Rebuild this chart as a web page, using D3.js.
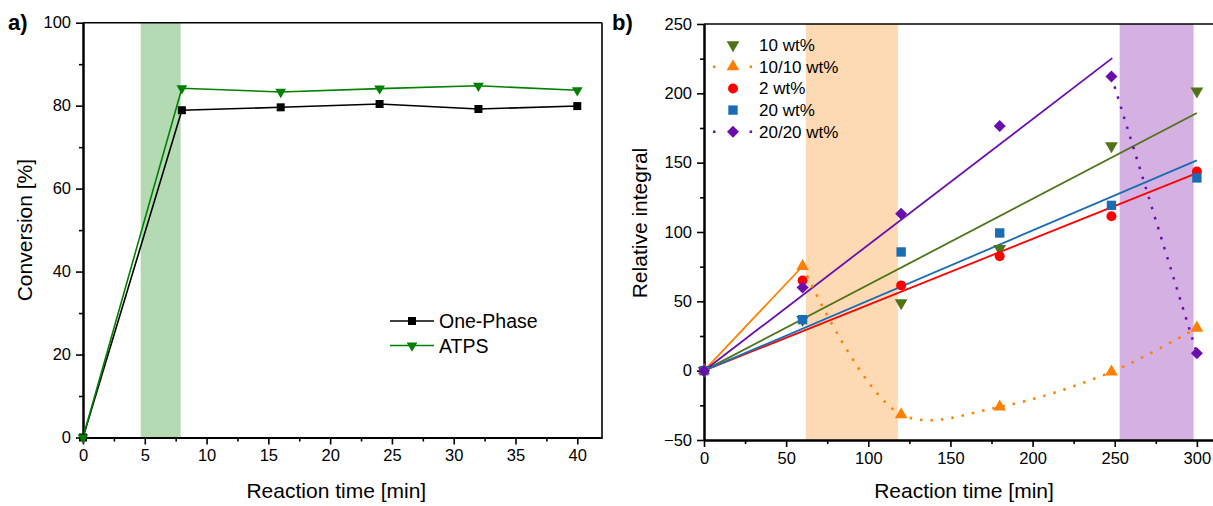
<!DOCTYPE html>
<html>
<head>
<meta charset="utf-8">
<script src="https://cdn.jsdelivr.net/npm/d3@7"></script>
<style>
  body { margin: 0; background: #fff; }
  svg text { font-family: "Liberation Sans", Arial, sans-serif; fill: #000; }
</style>
</head>
<body>
<div id="chart"></div>
<script>
// ---- panel a) data ----
const timeA = [0, 8, 16, 24, 32, 40];
const onePhase = [0, 78.9, 79.6, 80.4, 79.2, 79.9];
const atps = [0, 84.2, 83.3, 84.1, 84.8, 83.7];
const bandA = [4.67, 7.9];

// ---- panel b) data ----
const timeB = [0, 60, 120, 180, 248, 300];
const wt10 = [0, 36.7, 48.9, 87.9, 162.1, 201.6];
const wt1010 = [0, 75.3, -31.6, -26.1, -0.9, 30.8];
const wt2 = [0, 65, 61.5, 82.5, 111.3, 143.7];
const wt20 = [0, 36.8, 85.6, 99.3, 119.2, 139];
const wt2020 = [0, 60, 113.2, 176.4, 212.2, 12.5];
// linear fits start at the origin, end points
const fitEndX = [300, 60, 300, 300, 248.5];
const fitEndY = [185.8, 75.3, 142.5, 151.6, 225.4];
const bandB1 = [62, 118];
const bandB2 = [253, 298];

const namesB = ["10 wt%", "10/10 wt%", "2 wt%", "20 wt%", "20/20 wt%"];
const colorsB = ["#4f7416", "#ff8000", "#ff0000", "#1a6db2", "#6a0dad"];
const shapesB = ["down", "up", "circle", "square", "diamond"];
const seriesB = [wt10, wt1010, wt2, wt20, wt2020];

let width = 1213, height = 506;

let svg = d3.select("#chart")
    .append("svg")
    .attr("width", width)
    .attr("height", height);

function markerPath(shape, size) {
    if (shape === "down" || shape === "up") return d3.symbol(d3.symbolTriangle, size)();
    if (shape === "circle") return d3.symbol(d3.symbolCircle, size)();
    return d3.symbol(d3.symbolSquare, size)();
}
function markerRot(shape) {
    if (shape === "down") return " rotate(180)";
    if (shape === "diamond") return " rotate(45)";
    return "";
}

function drawAxes(g, x, y, xTicks, xMinor, yTicks, yMinor, right, top) {
    // frame top + right
    g.append("line").attr("x1", x.range()[0]).attr("x2", right)
        .attr("y1", top).attr("y2", top)
        .attr("stroke", "#000").attr("stroke-width", 1.6);
    g.append("line").attr("x1", right).attr("x2", right)
        .attr("y1", top).attr("y2", y.range()[0])
        .attr("stroke", "#000").attr("stroke-width", 1.6);

    let xb = y.range()[0];
    let xMin = g.append("g").attr("transform", `translate(0,${xb})`)
        .call(d3.axisBottom(x).tickValues(xMinor).tickFormat("").tickSize(4).tickSizeOuter(0));
    let xMaj = g.append("g").attr("transform", `translate(0,${xb})`)
        .call(d3.axisBottom(x).tickValues(xTicks).tickSize(7).tickSizeOuter(0).tickPadding(5));
    let yx = x.range()[0];
    let yMin = g.append("g").attr("transform", `translate(${yx},0)`)
        .call(d3.axisLeft(y).tickValues(yMinor).tickFormat("").tickSize(4).tickSizeOuter(0));
    let yMaj = g.append("g").attr("transform", `translate(${yx},0)`)
        .call(d3.axisLeft(y).tickValues(yTicks).tickSize(7).tickSizeOuter(0).tickPadding(5)
            .tickFormat(d => d < 0 ? "\u2212" + Math.abs(d) : d));
    [xMin, xMaj, yMin, yMaj].forEach(a => {
        a.selectAll("path").attr("stroke", "#000").attr("stroke-width", 2);
        a.selectAll("line").attr("stroke", "#000").attr("stroke-width", 1.6);
        a.selectAll("text").style("font-size", "16.5px").style("font-family", "Liberation Sans, Arial, sans-serif").attr("fill", "#111");
    });
}

// ================= panel a =================
let xA = d3.scaleLinear().domain([0, 42]).range([83, 602]);
let yA = d3.scaleLinear().domain([0, 100]).range([437.5, 22.7]);
let gA = svg.append("g");

gA.append("rect")
    .attr("x", xA(bandA[0])).attr("width", xA(bandA[1]) - xA(bandA[0]))
    .attr("y", yA(100)).attr("height", yA(0) - yA(100))
    .attr("fill", "#b3dab3");

drawAxes(gA, xA, yA, d3.range(0, 41, 5), d3.range(2.5, 41, 5),
    d3.range(0, 101, 20), d3.range(10, 100, 20), xA(42), yA(100));

let lineA = d3.line().x((d, i) => xA(timeA[i])).y(d => yA(d));
let seriesA = [
    { name: "One-Phase", values: onePhase, color: "#000", shape: "square", size: 64 },
    { name: "ATPS", values: atps, color: "#008000", shape: "down", size: 50 }
];
seriesA.forEach(s => {
    gA.append("path").attr("d", lineA(s.values))
        .attr("fill", "none").attr("stroke", s.color).attr("stroke-width", 1.6);
});
seriesA.forEach(s => {
    gA.selectAll(null).data(s.values).enter().append("path")
        .attr("d", markerPath(s.shape, s.size))
        .attr("transform", (d, i) => `translate(${xA(timeA[i])},${yA(d)})` + markerRot(s.shape))
        .attr("fill", s.color);
});

// legend a
seriesA.forEach((s, i) => {
    let ly = 321 + i * 24.5;
    gA.append("line").attr("x1", 390).attr("x2", 434).attr("y1", ly).attr("y2", ly)
        .attr("stroke", s.color).attr("stroke-width", 1.6);
    gA.append("path").attr("d", markerPath(s.shape, s.size))
        .attr("transform", `translate(412,${ly})` + markerRot(s.shape))
        .attr("fill", s.color);
    gA.append("text").attr("x", 439).attr("y", ly + 7).style("font-size", "19.5px").text(s.name);
});

gA.append("text").attr("x", xA(20.5)).attr("y", 498)
    .style("text-anchor", "middle").style("font-size", "21px").text("Reaction time [min]");
gA.append("text").attr("transform", `translate(32,${yA(50)}) rotate(-90)`)
    .style("text-anchor", "middle").style("font-size", "21px").text("Conversion [%]");
gA.append("text").attr("x", 8).attr("y", 30)
    .style("font-size", "22px").style("font-weight", "bold").text("a)");

// ================= panel b =================
let xB = d3.scaleLinear().domain([0, 310]).range([704, 1213.3]);
let yB = d3.scaleLinear().domain([-50, 250]).range([440, 24]);
let gB = svg.append("g");

[[bandB1, "#fdd9b4"], [bandB2, "#d5b0e3"]].forEach(b => {
    gB.append("rect")
        .attr("x", xB(b[0][0])).attr("width", xB(b[0][1]) - xB(b[0][0]))
        .attr("y", yB(250)).attr("height", yB(-50) - yB(250))
        .attr("fill", b[1]);
});

drawAxes(gB, xB, yB, d3.range(0, 301, 50), d3.range(25, 301, 50),
    d3.range(-50, 251, 50), d3.range(-25, 250, 50), 1214, yB(250));

// fit lines
fitEndX.forEach((ex, i) => {
    gB.append("line")
        .attr("x1", xB(0)).attr("y1", yB(0))
        .attr("x2", xB(ex)).attr("y2", yB(fitEndY[i]))
        .attr("stroke", colorsB[i]).attr("stroke-width", 1.8);
});

// dotted spline parts
let orangePts = timeB.slice(1).map((t, i) => [t, wt1010[i + 1]]);
gB.append("path")
    .attr("d", d3.line().x(d => xB(d[0])).y(d => yB(d[1])).curve(d3.curveCatmullRom.alpha(0.5))(orangePts))
    .attr("fill", "none").attr("stroke", colorsB[1]).attr("stroke-width", 2.5)
    .attr("stroke-dasharray", "2.5,8");
let purplePts = timeB.slice(4).map((t, i) => [t, wt2020[i + 4]]);
gB.append("path")
    .attr("d", d3.line().x(d => xB(d[0])).y(d => yB(d[1]))(purplePts))
    .attr("fill", "none").attr("stroke", colorsB[4]).attr("stroke-width", 2.5)
    .attr("stroke-dasharray", "2.5,8");

let sizesB = [70, 70, 78, 88, 72];
seriesB.forEach((vals, k) => {
    gB.selectAll(null).data(vals).enter().append("path")
        .attr("d", markerPath(shapesB[k], sizesB[k]))
        .attr("transform", (d, i) => `translate(${xB(timeB[i])},${yB(d)})` + markerRot(shapesB[k]))
        .attr("fill", colorsB[k]);
});

// legend b
namesB.forEach((n, k) => {
    let ly = 45 + k * 21.7;
    if (k === 1 || k === 4) {
        gB.append("line").attr("x1", 713).attr("x2", 754).attr("y1", ly).attr("y2", ly)
            .attr("stroke", colorsB[k]).attr("stroke-width", 2.5)
            .attr("stroke-dasharray", "2.5,15.8");
    }
    gB.append("path").attr("d", markerPath(shapesB[k], sizesB[k]))
        .attr("transform", `translate(733,${ly})` + markerRot(shapesB[k]))
        .attr("fill", colorsB[k]);
    gB.append("text").attr("x", 759).attr("y", ly + 6).style("font-size", "17px").text(n);
});

gB.append("text").attr("x", 964).attr("y", 498)
    .style("text-anchor", "middle").style("font-size", "21px").text("Reaction time [min]");
gB.append("text").attr("transform", `translate(647,223) rotate(-90)`)
    .style("text-anchor", "middle").style("font-size", "21px").text("Relative integral");
gB.append("text").attr("x", 612).attr("y", 30)
    .style("font-size", "22px").style("font-weight", "bold").text("b)");
</script>
</body>
</html>
